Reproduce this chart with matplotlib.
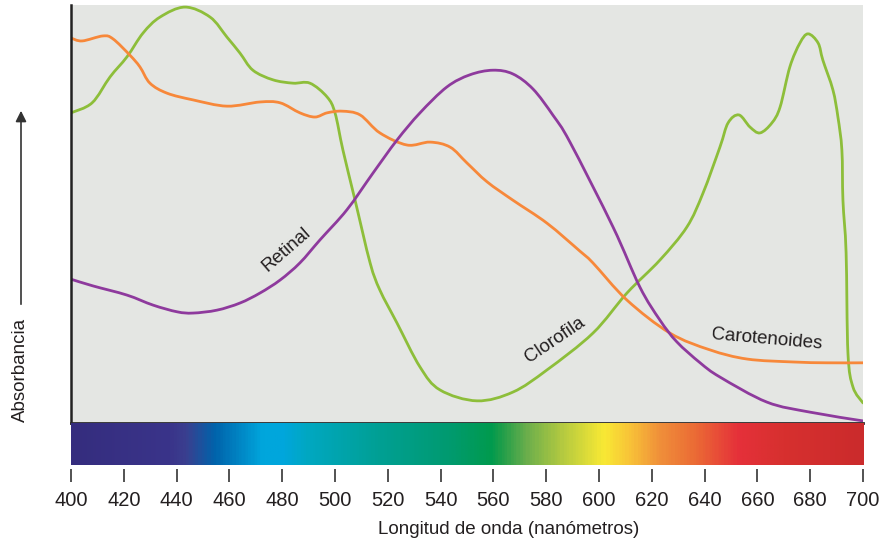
import matplotlib
matplotlib.use("Agg")
import matplotlib.pyplot as plt
import numpy as np
from matplotlib.colors import LinearSegmentedColormap
from matplotlib.path import Path
from matplotlib.patches import PathPatch

plt.rcParams["font.family"] = ["Liberation Sans", "DejaVu Sans"]

# Clorofila (green)
clorofila_wl = [400, 408, 414.8, 421.2, 427.3, 433.7, 443.2, 452.7, 459.1, 464, 468.9,
                476.5, 484.1, 490.5, 497, 500, 503, 507.6, 513.3, 517, 523.5,
                532.2, 539.8, 553.8, 567.4, 580.3, 597.7, 610.6, 623.1, 633.3,
                639.4, 645.8, 648.9, 653, 657.2, 661, 665.5, 668.6, 672.3, 676.1,
                679.2, 683, 684.8, 688.6, 690.5, 692, 692.4, 693.6, 694.3, 696.2, 700]
clorofila_abs = [74.2, 76.6, 82.8, 87.6, 93.3, 97.1, 99.5, 97.1, 92.3, 88.5, 84.4,
                 82.1, 81.3, 81.3, 78.0, 74.2, 65.3, 53.3, 38.3, 31.8, 23.9,
                 13.4, 7.9, 5.3, 7.4, 12.7, 21.5, 31.1, 39.0, 46.9,
                 55.0, 66.0, 71.8, 73.7, 70.8, 69.4, 71.8, 75.6, 85.2, 90.9,
                 93.1, 90.9, 86.8, 79.7, 73.2, 65.3, 53.3, 40.7, 16.7, 8.6, 4.8]

# Carotenoides (orange)
carot_wl = [400, 404.2, 412.1, 415.9, 422.3, 426.1, 429.9, 436.4, 446.2, 459.1, 471.6,
            479.2, 486.7, 492.4, 497, 502.7, 509.5, 517, 527.3, 536, 543.6, 550,
            557.6, 567.4, 580.3, 592.8, 597.7, 610.6, 626.9, 642, 656.1, 673.5,
            686.4, 700]
carot_abs = [92.1, 91.4, 92.6, 91.9, 88.0, 85.2, 81.3, 78.9, 77.3, 75.8, 76.8,
             76.6, 74.2, 73.2, 74.2, 74.6, 73.7, 69.4, 66.5, 67.2, 66.0, 62.2,
             57.7, 53.3, 47.8, 41.1, 38.3, 29.4, 21.5, 17.5, 15.3, 14.6,
             14.4, 14.4]

# Retinal (purple)
retinal_wl = [400, 408.3, 421.2, 431.1, 440.2, 446.2, 455.3, 464, 471.6, 479.2, 486.7,
              494.3, 504.5, 514.4, 523.5, 532.2, 542.4, 551.1, 559.8, 567.4, 575,
              582.6, 589, 605.3, 615.5, 623.1, 629.5, 638.3, 645.8, 663.6,
              679.9, 700]
retinal_abs = [34.4, 32.8, 30.6, 28.2, 26.6, 26.3, 27.0, 28.7, 31.1, 34.2, 38.3,
               43.8, 51.0, 59.8, 67.7, 74.2, 80.4, 83.3, 84.4, 83.5, 79.9,
               73.6, 67.2, 46.9, 32.5, 24.6, 19.4, 14.4, 11.0, 5.0,
               2.6, 0.5]

# visible spectrum colour stops
spectrum_wl = [400, 437, 443, 454, 472, 480, 489, 515, 544, 559, 563, 573, 586,
               602, 612, 623, 637, 653, 670, 700]
spectrum_colors = ["#352D7E", "#3A348A", "#3A3F8F", "#0063AB", "#00A6DC", "#00A6DC",
                   "#00A8C2", "#00A096", "#009A6E", "#009A4E", "#1E9E4A", "#6DAF4C",
                   "#B4CA40", "#F9E934", "#F8C238", "#F0903A", "#EB6A35", "#E5303A",
                   "#D7302F", "#CB2B2C"]

x_ticks = list(range(400, 701, 20))


def smooth_curve(ax, xs, ys, color):
    # bezier path through the read points (catmull-rom style handles)
    p = np.column_stack([xs, ys]).astype(float)
    verts = [p[0]]
    codes = [Path.MOVETO]
    n = len(p)
    for i in range(n - 1):
        p0 = p[i - 1] if i > 0 else p[i]
        p3 = p[i + 2] if i + 2 < n else p[i + 1]
        c1 = p[i] + (p[i + 1] - p0) / 6
        c2 = p[i + 1] - (p3 - p[i]) / 6
        verts += [c1, c2, p[i + 1]]
        codes += [Path.CURVE4] * 3
    patch = PathPatch(Path(verts, codes), facecolor="none", edgecolor=color,
                      lw=2, capstyle="round", joinstyle="round")
    ax.add_patch(patch)


fig = plt.figure(figsize=(8.8, 5.45), dpi=100)
ax = fig.add_axes([71 / 880, 1 - 423 / 545, 792 / 880, 418 / 545])
ax_spec = fig.add_axes([71 / 880, 1 - 465 / 545, 792 / 880, 42 / 545])

ax.set_facecolor("#E4E6E3")
smooth_curve(ax, clorofila_wl, clorofila_abs, "#8DBE3A")
smooth_curve(ax, carot_wl, carot_abs, "#F7883A")
smooth_curve(ax, retinal_wl, retinal_abs, "#8E3A9D")
ax.set_xlim(400, 700)
ax.set_ylim(0, 100)
ax.set_xticks([])
ax.set_yticks([])
for s in ["top", "right"]:
    ax.spines[s].set_visible(False)
ax.spines["left"].set_linewidth(1.8)
ax.spines["left"].set_color("#222222")
ax.spines["bottom"].set_linewidth(2)
ax.spines["bottom"].set_color("#2A2A2A")

txt = dict(fontsize=13.5, color="#231F20", ha="center", va="center")
ax.text(481.8, 41.4, "Retinal", rotation=41, **txt)
ax.text(583.3, 19.9, "Clorofila", rotation=34, **txt)
ax.text(663.6, 19.9, "Carotenoides", rotation=-5, **txt)

# spectrum bar
norm_pos = [(w - 400) / 300 for w in spectrum_wl]
cmap = LinearSegmentedColormap.from_list("spec", list(zip(norm_pos, spectrum_colors)))
grad = np.linspace(400, 700, 600).reshape(1, -1)
ax_spec.imshow(grad, aspect="auto", cmap=cmap, extent=[400, 700, 0, 1], vmin=400, vmax=700)
ax_spec.set_xlim(400, 700)
ax_spec.set_yticks([])
ax_spec.set_xticks(x_ticks)
ax_spec.set_xticklabels([str(t) for t in x_ticks])
for s in ["top", "right", "left"]:
    ax_spec.spines[s].set_visible(False)
ax_spec.spines["bottom"].set_position(("outward", 3))
ax_spec.spines["bottom"].set_color("none")
ax_spec.tick_params(axis="x", direction="out", length=9.5, width=1.3, color="#444444",
                    pad=6, labelsize=14.5, labelcolor="#231F20")

fig.text(509 / 880, 1 - 530 / 545, "Longitud de onda (nanómetros)",
         ha="center", va="center", fontsize=13.5, color="#231F20")
fig.text(20 / 880, 1 - 422 / 545, "Absorbancia", rotation=90,
         ha="center", va="bottom", fontsize=13.5, color="#231F20")
ax.annotate("", xy=(21 / 880, 1 - 108 / 545), xytext=(21 / 880, 1 - 307 / 545),
            xycoords="figure fraction", textcoords="figure fraction",
            arrowprops=dict(arrowstyle="-|>", color="#333333", lw=1.2, mutation_scale=16))

fig.savefig("out.png", dpi=100)
